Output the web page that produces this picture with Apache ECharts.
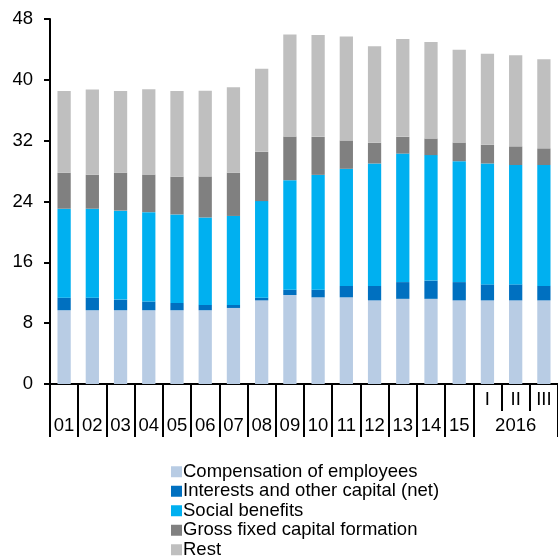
<!DOCTYPE html>
<html>
<head>
<meta charset="utf-8">
<script src="https://cdn.jsdelivr.net/npm/echarts@6/dist/echarts.min.js"></script>
<style>
  html, body { margin: 0; padding: 0; background: #fff; }
  #chart { width: 558px; height: 558px; }
</style>
</head>
<body>
<div id="chart"></div>
<script>
// Periods: annual 2001-2015 followed by the first three quarters of 2016
const years = ['01','02','03','04','05','06','07','08','09','10','11','12','13','14','15'];
const quarters = ['I','II','III'];
const quarterYear = '2016';
const categories = years.concat(quarters);

// Expenditure components (stacked, % of GDP)
const compensation = [9.7, 9.7, 9.7, 9.7, 9.7, 9.7, 10.0, 11.0, 11.7, 11.4, 11.4, 11.0, 11.2, 11.2, 11.0, 11.0, 11.0, 11.0];
const interests    = [1.65, 1.65, 1.4, 1.15, 0.95, 0.7, 0.4, 0.35, 0.7, 1.0, 1.5, 1.9, 2.2, 2.4, 2.4, 2.1, 2.1, 1.9];
const social       = [11.7, 11.7, 11.7, 11.75, 11.65, 11.5, 11.7, 12.7, 14.4, 15.1, 15.4, 16.1, 16.9, 16.5, 15.9, 15.9, 15.7, 15.9];
const grossFixed   = [4.73, 4.47, 4.99, 4.95, 4.96, 5.4, 5.7, 6.48, 5.75, 5.0, 3.73, 2.72, 2.2, 2.19, 2.46, 2.46, 2.45, 2.19];
const rest         = [10.74, 11.22, 10.74, 11.22, 11.26, 11.26, 11.21, 10.92, 13.41, 13.41, 13.68, 12.71, 12.88, 12.67, 12.18, 11.96, 11.97, 11.71];

const yTicks = { min: 0, max: 48, interval: 8 };

const FONT = "'Liberation Sans', Arial, sans-serif";
const FS = 18.5;
const nYears = years.length;

const chart = echarts.init(document.getElementById('chart'), null, { renderer: 'canvas' });

function bar(name, data, color) {
  return {
    name: name, type: 'bar', stack: 'total', data: data,
    barWidth: '47%', itemStyle: { color: color },
    xAxisIndex: 0, yAxisIndex: 0
  };
}

chart.setOption({
  animation: false,
  backgroundColor: '#fff',
  textStyle: { fontFamily: FONT },
  grid: { left: 50, top: 19, right: -2, bottom: 174, containLabel: false },
  legend: {
    orient: 'vertical', left: 171, top: 462, height: 140, padding: 0,
    icon: 'rect', itemWidth: 11, itemHeight: 11, itemGap: 0,
    selectedMode: false,
    textStyle: { fontFamily: FONT, fontSize: FS, color: '#000', lineHeight: 19.5, padding: [0, 0, 0, -4] },
    data: ['Compensation of employees', 'Interests and other capital (net)', 'Social benefits', 'Gross fixed capital formation', 'Rest']
  },
  xAxis: [
    {
      // annual labels with full-height separators
      type: 'category', data: categories, position: 'bottom', boundaryGap: true,
      axisLine: { show: true, lineStyle: { color: '#000', width: 2 } },
      axisTick: { show: true, length: 53, interval: function (i) { return i <= nYears; }, lineStyle: { color: '#000', width: 2 } },
      axisLabel: {
        interval: 0, margin: 32, color: '#000', fontFamily: FONT, fontSize: FS,
        formatter: function (v, i) { return i < nYears ? v : ''; }
      }
    },
    {
      // quarter labels with short separators
      type: 'category', data: categories, position: 'bottom', boundaryGap: true,
      axisLine: { show: false },
      axisTick: { show: true, length: 27, interval: function (i) { return i > nYears; }, lineStyle: { color: '#000', width: 2 } },
      axisLabel: {
        interval: 0, margin: 6, color: '#000', fontFamily: FONT, fontSize: FS,
        formatter: function (v, i) { return i >= nYears ? v : ''; }
      }
    },
    {
      // year caption centred under the quarters
      type: 'category', data: categories, position: 'bottom', boundaryGap: true,
      axisLine: { show: false }, axisTick: { show: false },
      axisLabel: {
        interval: 0, margin: 32, color: '#000', fontFamily: FONT, fontSize: FS,
        formatter: function (v, i) { return i === nYears + 1 ? quarterYear : ''; }
      }
    }
  ],
  yAxis: {
    type: 'value', min: yTicks.min, max: yTicks.max, interval: yTicks.interval,
    axisLine: { show: true, lineStyle: { color: '#000', width: 2 } },
    axisTick: { show: true, length: 6, lineStyle: { color: '#000', width: 2 } },
    splitLine: { show: false },
    axisLabel: { margin: 17, color: '#000', fontFamily: FONT, fontSize: FS }
  },
  series: [
    bar('Compensation of employees', compensation, '#b8cce4'),
    bar('Interests and other capital (net)', interests, '#0070c0'),
    bar('Social benefits', social, '#00b0f0'),
    bar('Gross fixed capital formation', grossFixed, '#808080'),
    bar('Rest', rest, '#bfbfbf')
  ]
});
</script>
</body>
</html>
